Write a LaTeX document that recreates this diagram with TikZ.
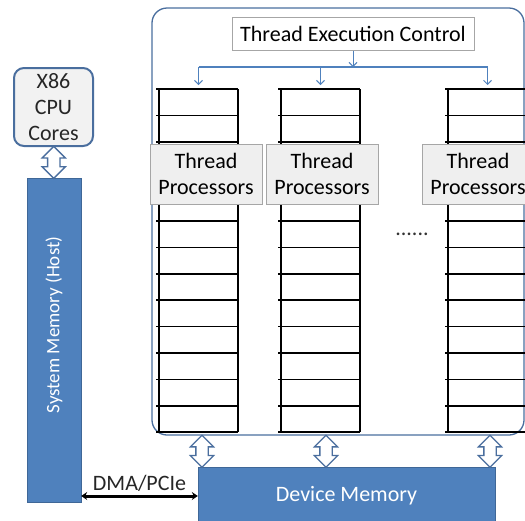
\documentclass[tikz,border=0pt]{standalone}
\usepackage{fontspec}
\setmainfont{Carlito}
\usetikzlibrary{arrows.meta,shapes.arrows}
\definecolor{officeblue}{HTML}{4F81BD}
\definecolor{frameblue}{HTML}{4A6E9E}
\definecolor{boxgray}{HTML}{A6A6A6}
\definecolor{fillgray}{HTML}{EFEFEF}
\newcommand{\RowH}{26.4}
\newcommand{\ColW}{79}
\newcommand{\ColTop}{89}
\newcommand{\ColBot}{432}
\newcommand{\NumRows}{13}

\begin{document}
\begin{tikzpicture}[x=1pt,y=-1pt,
		font=\fontsize{22}{26}\selectfont,
		graybox/.style={draw=boxgray,fill=fillgray,line width=1pt,inner sep=0pt,align=center},
		memblock/.style={draw=officeblue!80!black,fill=officeblue,text=white,inner sep=0pt},
		hollow/.style={double arrow,draw=frameblue,fill=white,line width=1.3pt,rotate=90,
			minimum height=32pt,inner xsep=0pt,inner ysep=5.5pt,double arrow head extend=5.5pt},
		gridline/.style={black,line width=1.5pt},
		ctrl/.style={officeblue,line width=1pt,-{Straight Barb[length=4pt,width=8pt]}},
		dmalink/.style={black,line width=3pt,{Stealth[length=6pt,width=8pt]}-{Stealth[length=6pt,width=8pt]}}]
		\useasboundingbox (0,0) rectangle (525,520);
		\clip (0,0) rectangle (525,520);

		% GPU frame
		\node[draw=frameblue,line width=1.3pt,rounded corners=15pt,minimum width=372pt,minimum height=427pt,inner sep=0pt] (gpu) at (338,221.5) {};

		% columns of registers
		\foreach \cx [count=\i] in {159,281,448} {
			\draw[gridline] (\cx,\ColTop) -- (\cx,\ColBot);
			\draw[gridline] (\cx+\ColW,\ColTop) -- (\cx+\ColW,\ColBot);
			\foreach \r in {0,...,\NumRows}
				\draw[gridline] (\cx-3,\ColTop+\r*\RowH) -- (\cx+\ColW,\ColTop+\r*\RowH);
			\coordinate (col\i) at (\cx+\ColW/2,\ColTop);
		}

		\node[graybox,minimum width=112pt,minimum height=60pt] (tp1) at (206,174) {Thread\\Processors};
		\node[graybox,minimum width=112pt,minimum height=60pt] (tp2) at (322,174) {Thread\\Processors};
		\node[graybox,minimum width=112pt,minimum height=60pt] (tp3) at (478,174) {Thread\\Processors};
		\node[text=black!80] (dots) at (412,234) {......};

		% thread execution control
		\node[graybox,fill=white,minimum width=242pt,minimum height=33pt] (tec) at (353,33.5) {Thread Execution Control};
		\coordinate (bus) at (0,67);
		\draw[ctrl] (tec.south) -- (tec.south |- bus);
		\draw[officeblue,line width=2.2pt] (bus -| col1) -- (bus -| col3);
		\foreach \i in {1,2,3}
			\draw[ctrl] (bus -| col\i) -- ([yshift=4pt]col\i);

		% host side
		\node[draw=frameblue,fill=black!5,line width=2pt,rounded corners=10pt,minimum width=79pt,minimum height=78pt,inner sep=0pt,align=center,text=black!85] (x86) at (53.5,107) {X86\\CPU\\Cores};
		\node[memblock,minimum width=54pt,minimum height=324pt] (sysmem) at (54,340) {};
		\node[rotate=90,text=white,font=\fontsize{19}{23}\selectfont] (sysmemlabel) at ([yshift=15pt]sysmem.center) {System Memory (Host)};
		\path (x86.south) -- (sysmem.north) node[midway,hollow] (hostlink) {};

		% device memory
		\node[memblock,minimum width=297pt,minimum height=58pt] (devmem) at (346.5,496) {Device Memory};
		\foreach \x [count=\i] in {202,326,490} {
			\coordinate (port\i) at (\x,0);
			\path (port\i |- gpu.south) -- (port\i |- devmem.north) node[midway,hollow] (devlink\i) {};
		}

		\coordinate (dma) at (0,496);
		\draw[dmalink] (sysmem.east |- dma) -- node[above,text=black!85] (dmalabel) {DMA/PCIe} (devmem.west |- dma);
	\end{tikzpicture}
\end{document}
